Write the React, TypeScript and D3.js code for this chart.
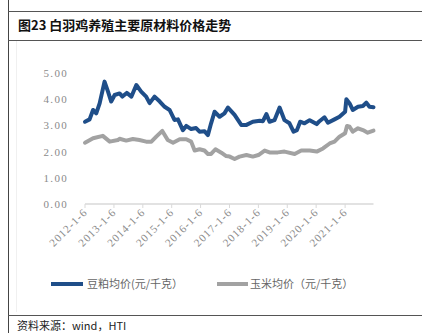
import React from "react";
import * as d3 from "d3";

const title = "图23 白羽鸡养殖主要原材料价格走势";
const source = "资料来源：wind，HTI";
const seriesNames = ["豆粕均价(元/千克）", "玉米均价（元/千克）"];

const soyDates = [
  "2012-01-06","2012-03-04","2012-04-17","2012-05-27","2012-07-09","2012-09-09","2012-10-23","2012-12-02",
  "2013-01-15","2013-03-18","2013-04-23","2013-06-17","2013-08-15","2013-10-16","2013-12-16",
  "2014-02-17","2014-04-02","2014-06-03","2014-08-08","2014-10-09","2014-12-10",
  "2015-02-10","2015-03-26","2015-05-27","2015-07-09","2015-09-09","2015-11-10","2015-12-24",
  "2016-02-24","2016-04-08","2016-05-18","2016-07-01","2016-09-02","2016-11-03","2016-12-17",
  "2017-03-11","2017-06-03","2017-08-08","2017-10-27",
  "2018-01-23","2018-03-04","2018-04-17","2018-05-27","2018-07-28","2018-10-01","2018-12-02",
  "2019-02-03","2019-03-26","2019-05-08","2019-06-18","2019-08-12","2019-10-16",
  "2020-01-13","2020-02-17","2020-04-20","2020-06-03","2020-08-25","2020-10-27",
  "2021-01-06","2021-01-22","2021-03-04","2021-04-13","2021-06-18","2021-08-19","2021-10-01","2021-11-10","2021-12-31",
];
const soyValues = [
  3.14,3.23,3.59,3.46,3.84,4.67,4.29,3.91,
  4.16,4.22,4.10,4.24,4.10,4.54,4.29,
  4.10,3.85,4.10,3.91,3.71,3.59,
  3.21,3.23,2.82,2.98,2.86,2.90,2.76,
  2.78,2.63,3.08,3.52,3.33,3.46,3.68,
  3.40,3.02,3.02,3.14,
  3.18,3.16,3.43,3.14,3.20,3.68,3.20,
  3.08,2.76,2.82,3.14,3.08,3.20,
  3.05,3.16,3.31,3.10,3.23,3.33,
  3.52,4.00,3.84,3.59,3.71,3.74,3.87,3.71,3.69,
];

const cornDates = [
  "2012-01-06","2012-04-17","2012-08-18","2012-11-14",
  "2013-02-24","2013-03-18","2013-06-10","2013-09-02","2013-11-24",
  "2014-02-17","2014-04-24","2014-06-25","2014-09-09","2014-11-17",
  "2015-01-23","2015-04-17","2015-07-09","2015-09-09","2015-10-23","2015-12-24",
  "2016-02-24","2016-04-08","2016-05-18","2016-07-12","2016-09-24","2016-11-25",
  "2017-01-08","2017-03-11","2017-05-12","2017-08-08","2017-10-27",
  "2018-01-06","2018-03-26","2018-05-27","2018-09-09","2018-12-02",
  "2019-04-09","2019-07-02","2019-10-16",
  "2020-01-13","2020-04-02","2020-06-25","2020-08-25","2020-10-27",
  "2021-01-06","2021-01-30","2021-03-04","2021-04-13","2021-06-18","2021-08-19","2021-10-19","2021-12-31",
];
const cornValues = [
  2.34,2.51,2.60,2.38,
  2.44,2.49,2.42,2.48,2.44,
  2.38,2.38,2.57,2.79,2.44,
  2.34,2.47,2.47,2.38,2.04,2.09,
  2.04,1.91,1.91,2.09,1.96,1.83,
  1.81,1.72,1.81,1.87,1.81,
  1.87,2.04,1.97,1.97,2.00,
  1.91,2.04,2.04,
  2.00,2.12,2.31,2.38,2.57,
  2.70,2.98,2.95,2.76,2.89,2.82,2.72,2.80,
];

const xTickDates = [
  "2012-01-06","2013-01-06","2014-01-06","2015-01-06","2016-01-06",
  "2017-01-06","2018-01-06","2019-01-06","2020-01-06","2021-01-06",
];
const xTickLabels = [
  "2012-1-6","2013-1-6","2014-1-6","2015-1-6","2016-1-6",
  "2017-1-6","2018-1-6","2019-1-6","2020-1-6","2021-1-6",
];
const yTicks = [0, 1, 2, 3, 4, 5];

const parse = d3.timeParse("%Y-%m-%d");

export default function App() {
  const W = 431, H = 336;
  const x = d3.scaleTime()
    .domain([parse("2012-01-06")!, parse("2021-12-31")!])
    .range([85, 373.5]);
  const y = d3.scaleLinear().domain([0, 5]).range([204, 73]);

  const line = d3.line<[Date, number]>()
    .x(d => x(d[0]))
    .y(d => y(d[1]))
    .curve(d3.curveLinear);

  const soy: [Date, number][] = soyDates.map((d, i) => [parse(d)!, soyValues[i]]);
  const corn: [Date, number][] = cornDates.map((d, i) => [parse(d)!, cornValues[i]]);

  const blue = "#1f4e89";
  const grey = "#a2a2a2";
  const tickFont = "'Liberation Serif', 'DejaVu Serif', serif";
  const cjk = "'Noto Sans CJK SC', sans-serif";

  return (
    <svg width={W} height={H} style={{ position: "absolute", left: 0, top: 0, background: "#fff" }}>
      {/* frame */}
      <line x1={8.5} x2={8.5} y1={0} y2={333} stroke="#444" strokeWidth={1} />
      <line x1={8} x2={422} y1={11.5} y2={11.5} stroke="#555" strokeWidth={1} />
      <line x1={8} x2={422} y1={40.5} y2={40.5} stroke="#555" strokeWidth={1} />
      <line x1={8} x2={422} y1={315.5} y2={315.5} stroke="#555" strokeWidth={1} />
      <line x1={16.5} x2={16.5} y1={41} y2={312} stroke="#f0f0f0" strokeWidth={1} />

      <text x={18} y={30} fontFamily={cjk} fontWeight={700} fontSize={13} fill="#111">{title}</text>

      {/* y labels */}
      {yTicks.map(t => (
        <text key={t} x={68} y={y(t) + 4} textAnchor="end" fontFamily={tickFont} fontSize={11} letterSpacing={1.3} fill="#8a8a8a">
          {t.toFixed(2)}
        </text>
      ))}

      {/* x axis */}
      <line x1={85} x2={373.5} y1={204} y2={204} stroke="#d9d9d9" strokeWidth={1.5} />
      {xTickDates.map((d, i) => {
        const xx = x(parse(d)!);
        return (
          <g key={d}>
            <line x1={xx} x2={xx} y1={204} y2={208} stroke="#d9d9d9" strokeWidth={1} />
            <text
              transform={`translate(${xx + 3},${213}) rotate(-45)`}
              textAnchor="end"
              fontFamily={tickFont}
              fontSize={11}
              letterSpacing={1}
              fill="#8a8a8a"
            >
              {xTickLabels[i]}
            </text>
          </g>
        );
      })}

      {/* series */}
      <path d={line(corn) || ""} fill="none" stroke={grey} strokeWidth={4} strokeLinejoin="round" strokeLinecap="round" />
      <path d={line(soy) || ""} fill="none" stroke={blue} strokeWidth={4} strokeLinejoin="round" strokeLinecap="round" />

      {/* legend */}
      <line x1={51} x2={83} y1={284} y2={284} stroke={blue} strokeWidth={4} />
      <text x={87} y={288} fontFamily={cjk} fontSize={11} fill="#666">{seriesNames[0]}</text>
      <line x1={217} x2={248} y1={284} y2={284} stroke={grey} strokeWidth={4} />
      <text x={250} y={288} fontFamily={cjk} fontSize={11} fill="#666">{seriesNames[1]}</text>

      <text x={17} y={330} fontFamily={cjk} fontSize={11} fill="#222">{source}</text>
    </svg>
  );
}
